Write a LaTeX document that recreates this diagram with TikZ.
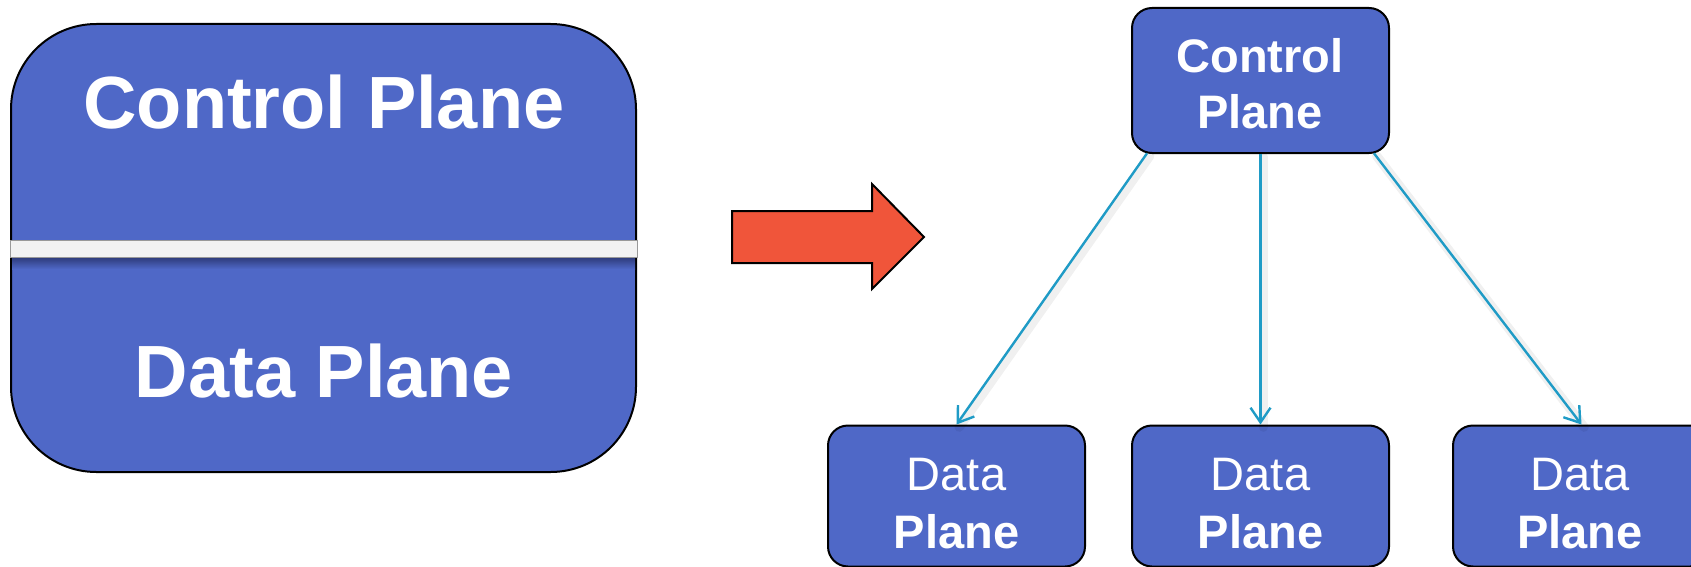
\documentclass[tikz,border=0pt]{standalone}
\usepackage{fontspec}
\setmainfont{Liberation Sans}
\usetikzlibrary{arrows.meta,calc}
\definecolor{boxblue}{RGB}{79,104,199}
\definecolor{conncol}{RGB}{31,155,198}
\definecolor{redarrow}{RGB}{240,85,58}
\definecolor{barfill}{RGB}{242,242,242}
\definecolor{shadowblue}{RGB}{45,58,120}
\begin{document}
\begin{tikzpicture}[x=0.75pt,y=-0.75pt,
  bigbox/.style={draw=black,line width=1.5pt,fill=boxblue,rounded corners=64pt,
    minimum width=468.75pt,minimum height=336pt,inner sep=0pt},
  smallbox/.style={draw=black,line width=1.5pt,fill=boxblue,rounded corners=15pt,
    minimum width=192.75pt,inner sep=0pt},
  bigtext/.style={text=white,font=\fontsize{55.5}{68}\selectfont\bfseries,inner sep=0pt},
  cptext/.style={text=white,font=\fontsize{35.25}{42}\selectfont\bfseries,align=center,inner sep=0pt},
  dptext/.style={text=white,font=\fontsize{35.25}{43.5}\selectfont,align=center,inner sep=0pt},
  conn/.style={draw=conncol,line width=1.8pt,-{Straight Barb[length=11pt,width=15pt]}},
  connshadow/.style={draw=black,opacity=0.06,line width=7pt,line cap=round},
  bigarrow/.style={draw=black,line width=1.5pt,fill=redarrow,line join=miter}]
\useasboundingbox (0,0) rectangle (1691,567);
% left: combined box
\node[bigbox] (big) at (323.5,248) {};
\shade[top color=shadowblue,bottom color=boxblue] (12,257) rectangle (635,269);
\draw[draw=black!40,line width=0.75pt,fill=barfill] (10,240) rectangle (637,257);
\node[bigtext] (bigcp) at (324,102.5) {Control Plane};
\node[bigtext] (bigdp) at (324,371.5) {Data Plane};
% red arrow
\draw[bigarrow] (732,211) -- (872,211) -- (872,184) -- (924,237) -- (872,289) -- (872,263) -- (732,263) -- cycle;
% right: control box and data boxes
\node[smallbox,minimum height=108.75pt] (cp) at (1260.5,80.5) {};
\node[cptext] (cpt) at (1260,84) {Control\\Plane};
\node[smallbox,minimum height=105.75pt] (d1) at (956.5,496) {};
\node[smallbox,minimum height=105.75pt] (d2) at (1260.5,496) {};
\node[smallbox,minimum height=105.75pt] (d3) at (1581.5,496) {};
\node[dptext] (d1t) at (956.5,504) {Data\\\textbf{Plane}};
\node[dptext] (d2t) at (1260.5,504) {Data\\\textbf{Plane}};
\node[dptext] (d3t) at (1580,504) {Data\\\textbf{Plane}};
% connectors
\coordinate (s1) at ([xshift=12pt,yshift=0.5pt]cp.south west);
\coordinate (s3) at ([xshift=-12pt,yshift=0.5pt]cp.south east);
\draw[connshadow] ([shift={(2pt,-2pt)}]s1) -- ([shift={(2pt,-2pt)}]d1.north);
\draw[connshadow] ([shift={(2pt,-2pt)}]cp.south) -- ([shift={(2pt,-2pt)}]d2.north);
\draw[connshadow] ([shift={(2pt,-2pt)}]s3) -- ([shift={(2pt,-2pt)}]d3.north);
\draw[conn] (s1) -- (d1.north);
\draw[conn] (cp.south) -- (d2.north);
\draw[conn] (s3) -- (d3.north);
\end{tikzpicture}
\end{document}
